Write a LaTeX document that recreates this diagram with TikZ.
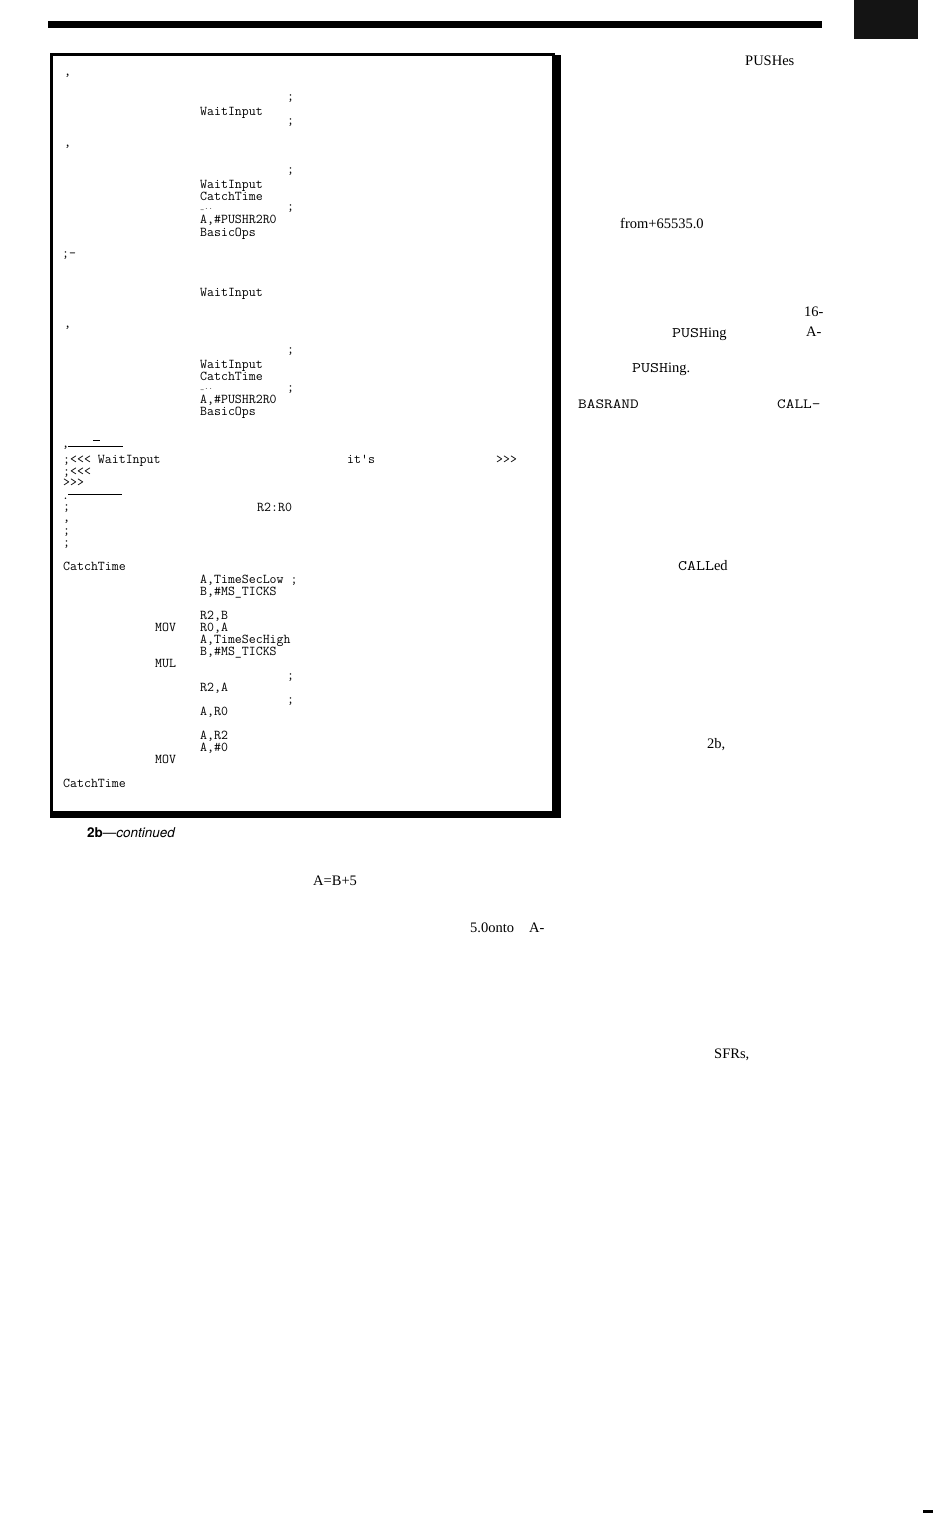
\documentclass[tikz,border=0pt]{standalone}
\usepackage{fontspec}
\usepackage{graphicx}
\setmainfont{Liberation Serif}
\newfontfamily\capfont{TeX Gyre Heros}
\newcommand{\wmono}[1]{\scalebox{1.2}[1]{\ttfamily #1}}
\begin{document}
\begin{tikzpicture}[x=1pt,y=-1pt,
  code/.style={anchor=base west,inner sep=0pt,font=\ttfamily\fontsize{13.5}{12}\selectfont},
  faint/.style={anchor=base west,inner sep=0pt,font=\ttfamily\fontsize{8}{8}\selectfont,text=black!70},
  txt/.style={anchor=base west,inner sep=0pt,font=\fontsize{14.5}{16}\selectfont},
  mono/.style={anchor=base west,inner sep=0pt,font=\fontsize{14}{16}\selectfont},
  rulel/.style={line width=0.9pt}]
\path[use as bounding box] (0,0) rectangle (935,1520);
% top rule and corner block
\fill[black] (48,21) rectangle (822,28);
\fill[black!92] (854,0) rectangle (918,39);
% code box with shadow
\draw[line width=3pt] (51.5,54.5) rectangle (553,812);
\fill[black] (552,55) rectangle (561,818);
\fill[black] (50,811) rectangle (561,818);
% code text
\node[code] (c1) at (64,75) {,};
\node[code] (c2) at (287,100) {;};
\node[code] (c3) at (200,115) {WaitInput};
\node[code] (c4) at (287,124) {;};
\node[code] (c5) at (64,146) {,};
\node[code] (c6) at (287,173) {;};
\node[code] (c7) at (200,188) {WaitInput};
\node[code] (c8) at (200,200) {CatchTime};
\node[faint] (c9a) at (200,209) {\_..};
\node[code] (c9b) at (287,210) {;};
\node[code] (c10) at (200,223) {A,\#PUSHR2R0};
\node[code] (c11) at (200,236) {BasicOps};
\node[code] (c12) at (62,257) {;-};
\node[code] (c13) at (200,296) {WaitInput};
\node[code] (c14) at (64,327) {,};
\node[code] (c15) at (287,353) {;};
\node[code] (c16) at (200,368) {WaitInput};
\node[code] (c17) at (200,380) {CatchTime};
\node[faint] (c18a) at (200,389) {\_..};
\node[code] (c18b) at (287,391) {;};
\node[code] (c19) at (200,403) {A,\#PUSHR2R0};
\node[code] (c20) at (200,415) {BasicOps};
\node[code] (c21) at (62,447) {,};
\draw[rulel] (68,446) -- (123,446);
\draw[rulel] (93,440) -- (100,440);
\node[code] (c22a) at (63,463) {;<<< WaitInput};
\node[code] (c22b) at (347,463) {it's};
\node[code] (c22c) at (496,463) {>>>};
\node[code] (c23) at (63,475) {;<<<};
\node[code] (c24) at (63,486) {>>>};
\node[code] (c25) at (62,499) {.};
\draw[rulel] (68,494) -- (122,494);
\node[code] (c26a) at (63,510) {;};
\node[code] (c26b) at (257,511) {R2:R0};
\node[code] (c27) at (63,521) {,};
\node[code] (c28) at (63,534) {;};
\node[code] (c29) at (63,546) {;};
\node[code] (c30) at (63,570) {CatchTime};
\node[code] (c31) at (200,583) {A,TimeSecLow ;};
\node[code] (c32) at (200,595) {B,\#MS\_TICKS};
\node[code] (c33) at (200,619) {R2,B};
\node[code] (c34a) at (155,631) {MOV};
\node[code] (c34b) at (200,631) {R0,A};
\node[code] (c35) at (200,643) {A,TimeSecHigh};
\node[code] (c36) at (200,655) {B,\#MS\_TICKS};
\node[code] (c37) at (155,667) {MUL};
\node[code] (c38) at (287,679) {;};
\node[code] (c39) at (200,691) {R2,A};
\node[code] (c40) at (287,703) {;};
\node[code] (c41) at (200,715) {A,R0};
\node[code] (c42) at (200,739) {A,R2};
\node[code] (c43) at (200,751) {A,\#0};
\node[code] (c44) at (155,763) {MOV};
\node[code] (c45) at (63,787) {CatchTime};
% caption
\node[anchor=base west,inner sep=0pt,font=\capfont\fontsize{13.5}{15}\selectfont] (cap) at (87,837) {\textbf{2b}\textemdash\textit{continued}};
% right column fragments
\node[txt] (r1) at (745,66) {PUSHes};
\node[txt] (r2) at (620,228) {from+65535.0};
\node[txt] (r3) at (804,316) {16-};
\node[txt] (r4) at (672,337) {\wmono{PUSH}ing};
\node[txt] (r5) at (806,336) {A-};
\node[txt] (r6) at (632,372) {\wmono{PUSH}ing.};
\node[mono] (r7) at (578,408) {\wmono{BASRAND}};
\node[mono] (r8) at (777,408) {\wmono{CALL-}};
\node[txt] (r9) at (678,570) {\wmono{CALL}ed};
\node[txt] (r10) at (707,748) {2b,};
\node[txt] (r11) at (714,1058) {SFRs,};
\node[txt] (b1) at (313,885) {A=B+5};
\node[txt] (b2) at (470,932) {5.0onto};
\node[txt] (b3) at (529,932) {A-};
\fill[black] (923,1510) rectangle (933,1513);
\end{tikzpicture}
\end{document}
